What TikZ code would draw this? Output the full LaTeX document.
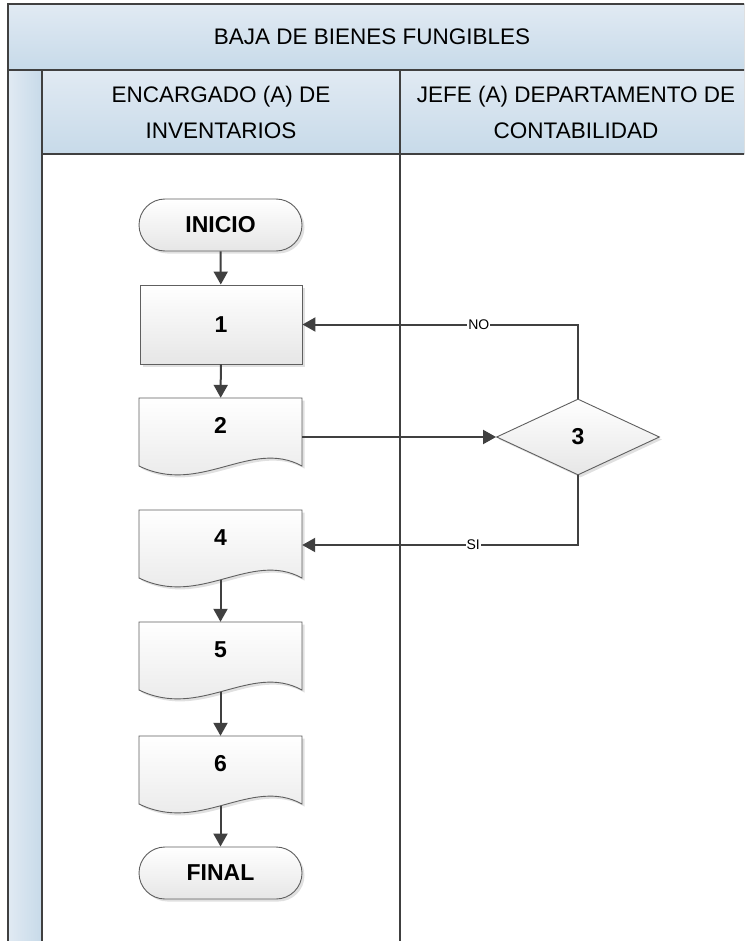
\documentclass[tikz,border=0pt]{standalone}
\usepackage{fontspec}
\setmainfont{Liberation Sans}
\usepackage{xcolor}
\definecolor{bbLine}{RGB}{64, 64, 64}
\definecolor{bbBorder}{RGB}{95, 95, 95}
\definecolor{bbHeadTop}{RGB}{225, 234, 243}
\definecolor{bbHeadBot}{RGB}{199, 218, 233}
\definecolor{bbNodeBot}{RGB}{230, 230, 230}
\usepackage{tikz}
\usetikzlibrary{
    shapes.geometric,
    arrows.meta,
    positioning,
    shadows
}

% document symbol: wavy outline first, then the named text node on top
\newcommand{\docNode}[4]{%
    \draw[docShape] (#2-81.5, #3) -- (#2+81.5, #3) -- (#2+81.5, #3+68)
        .. controls (#2+30, #3+40) and (#2-20, #3+98) .. (#2-81.5, #3+68) -- cycle;
    \node[docText] (#1) at (#2, #3+35) {#4};
}

\begin{document}
\begin{tikzpicture}[
    x=1pt, y=-1pt,
    laneFill/.style={
        top color=bbHeadTop, bottom color=bbHeadBot, draw=none
    },
    laneRule/.style={
        draw=bbLine, line width=2pt
    },
    headText/.style={
        font=\fontsize{22.5}{36}\selectfont, align=center, text=black
    },
    nodeBase/.style={
        draw=bbBorder, line width=0.9pt,
        top color=white, bottom color=bbNodeBot,
        drop shadow={shadow xshift=2.5pt, shadow yshift=-2.5pt, fill=black, opacity=0.12},
        font=\fontsize{23}{27}\selectfont\bfseries, align=center
    },
    terminal/.style={
        nodeBase, rectangle, rounded corners=26pt,
        minimum width=163pt, minimum height=52pt
    },
    process/.style={
        nodeBase, rectangle, minimum width=162pt, minimum height=79pt
    },
    decision/.style={
        nodeBase, diamond, aspect=2, inner sep=0pt,
        minimum width=163pt, minimum height=76pt
    },
    docShape/.style={
        draw=bbBorder, line width=0.9pt,
        top color=white, bottom color=bbNodeBot,
        drop shadow={shadow xshift=2.5pt, shadow yshift=-2.5pt, fill=black, opacity=0.12}
    },
    docText/.style={
        rectangle, minimum width=163pt, minimum height=70pt,
        text height=15pt, text depth=15pt,
        font=\fontsize{23}{27}\selectfont\bfseries
    },
    flowLine/.style={
        -{Triangle[length=13pt, width=14pt]}, line width=2pt, draw=bbLine
    },
    branchLabel/.style={
        fill=white, inner sep=1pt, font=\fontsize{14}{16}\selectfont
    }
]

    % Page and frame
    \useasboundingbox (0, 0) rectangle (744, 941);
    \fill[white] (0, 0) rectangle (744, 941);
    \clip (0, 0) rectangle (744, 941);

    % Pool title and lane headers
    \fill[laneFill] (8, 4) rectangle (790, 70);
    \fill[left color=bbHeadTop, right color=bbHeadBot] (8, 70) rectangle (42, 960);
    \fill[laneFill] (42, 70) rectangle (400, 154);
    \fill[laneFill] (400, 70) rectangle (790, 154);

    \node[headText] (title) at (372, 37) {BAJA DE BIENES FUNGIBLES};
    \node[headText] (laneInv) at (221, 112) {ENCARGADO (A) DE\\INVENTARIOS};
    \node[headText] (laneCont) at (576, 112) {JEFE (A) DEPARTAMENTO DE\\CONTABILIDAD};

    \draw[laneRule] (8, 960) -- (8, 4) -- (790, 4);
    \draw[laneRule] (8, 70) -- (790, 70);
    \draw[laneRule] (42, 960) -- (42, 70);
    \draw[laneRule] (42, 154) -- (790, 154);
    \draw[laneRule] (400, 70) -- (400, 960);

    % Steps
    \node[terminal] (start) at (220.5, 225) {INICIO};
    \node[process] (stepOne) at (221, 324.5) {1};
    \docNode{stepTwo}{220.5}{398}{2}
    \node[decision] (check) at (578, 437) {3};
    \docNode{stepFour}{220.5}{510}{4}
    \docNode{stepFive}{220.5}{622}{5}
    \docNode{stepSix}{220.5}{736}{6}
    \node[terminal] (finish) at (220.5, 873) {FINAL};

    % Connectors
    \draw[flowLine] (start) -- (stepOne);
    \draw[flowLine] (stepOne) -- (stepTwo);
    \draw[flowLine] (stepTwo.east |- check.west) -- (check.west);
    \draw[flowLine] (check.north) |- node[branchLabel, pos=0.68] {NO} (stepOne.east);
    \draw[flowLine] (check.south) |- node[branchLabel, pos=0.69] {SI} (stepFour.east);
    \draw[flowLine] (stepFour) -- (stepFive);
    \draw[flowLine] (stepFive) -- (stepSix);
    \draw[flowLine] (stepSix) -- (finish);

\end{tikzpicture}
\end{document}
